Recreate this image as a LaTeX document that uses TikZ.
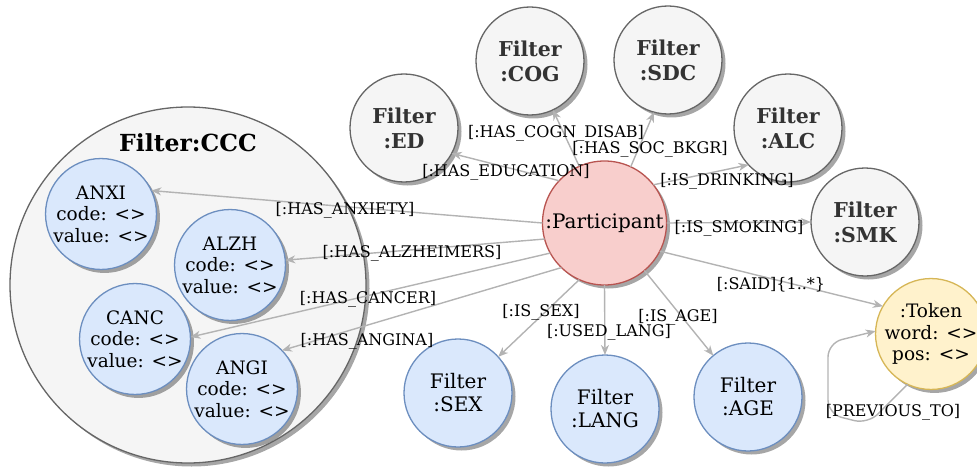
\documentclass[tikz,border=0pt]{standalone}
\usepackage{fontspec}
\setmainfont{DejaVu Serif}
\usetikzlibrary{shadows,arrows.meta}

\definecolor{grayfill}{HTML}{F5F5F5}
\definecolor{graydraw}{HTML}{666666}
\definecolor{graytext}{HTML}{333333}
\definecolor{bluefill}{HTML}{DAE8FC}
\definecolor{bluedraw}{HTML}{6C8EBF}
\definecolor{redfill}{HTML}{F8CECC}
\definecolor{reddraw}{HTML}{B85450}
\definecolor{yellowfill}{HTML}{FFF2CC}
\definecolor{yellowdraw}{HTML}{D6B656}
\definecolor{edgecol}{HTML}{B3B3B3}

\begin{document}
\begin{tikzpicture}[x=1pt,y=-1pt,
  every node/.style={inner sep=0pt,outer sep=0pt},
  roundnode/.style={circle,minimum size=108pt,line width=1.3pt,align=center,
    font=\fontsize{20}{23}\selectfont,
    drop shadow={shadow xshift=3.5pt,shadow yshift=-3.5pt,fill=black,opacity=0.35}},
  graynode/.style={roundnode,fill=grayfill,draw=graydraw,text=graytext,
    font=\fontsize{20.5}{25}\selectfont\bfseries},
  bluenode/.style={roundnode,fill=bluefill,draw=bluedraw},
  attrnode/.style={bluenode,font=\fontsize{18.5}{21.5}\selectfont},
  rednode/.style={roundnode,fill=redfill,draw=reddraw,minimum size=124pt},
  yellownode/.style={roundnode,fill=yellowfill,draw=yellowdraw,font=\fontsize{18.5}{21.5}\selectfont},
  conn/.style={draw=edgecol,line width=1.4pt,
    -{Stealth[length=10pt,width=8pt,inset=3pt]}},
  lbl/.style={font=\fontsize{16}{19}\selectfont,text=black}
]
\useasboundingbox (0,0) rectangle (977,468);

% container of the disease filters
\node[graynode,minimum size=356pt] (ccc) at (188,285) {};
\node[font=\fontsize{23.5}{27}\selectfont\bfseries] (ccctitle) at (188,143) {Filter:CCC};
\node[attrnode] (anxi) at (101,214) {ANXI\\code: <>\\value: <>};
\node[attrnode] (alzh) at (230,265) {ALZH\\code: <>\\value: <>};
\node[attrnode] (canc) at (135,339) {CANC\\code: <>\\value: <>};
\node[attrnode] (angi) at (242,389) {ANGI\\code: <>\\value: <>};

% central participant and the other filters
\node[rednode] (part) at (604.5,223) {:Participant};
\node[graynode] (ed)  at (404,128) {Filter\\:ED};
\node[graynode] (cog) at (530,61)  {Filter\\:COG};
\node[graynode] (sdc) at (668,60)  {Filter\\:SDC};
\node[graynode] (alc) at (788,128) {Filter\\:ALC};
\node[graynode] (smk) at (865,222) {Filter\\:SMK};
\node[bluenode] (sex)  at (458,393) {Filter\\:SEX};
\node[bluenode] (lang) at (605,409) {Filter\\:LANG};
\node[bluenode] (age)  at (748,397) {Filter\\:AGE};
\node[yellownode] (token) at (931,334) {:Token\\word: <>\\pos: <>};

% relationships
\draw[conn] (part.180) -- (anxi.25);
\draw[conn] (part.195) -- (alzh.5);
\draw[conn] (part.209) -- (canc.2);
\draw[conn] (part.226) -- (angi.44);
\draw[conn] (part.137) -- (ed.-28);
\draw[conn] (part.114) -- (cog);
\draw[conn] (part.65)  -- (sdc.255);
\draw[conn] (part.38)  -- (alc.223);
\draw[conn] (part.0)   -- (smk.180);
\draw[conn] (part.-27) -- (token.150);
\draw[conn] (part.-114) -- (sex.42);
\draw[conn] (part.-90) -- (lang.90);
\draw[conn] (part.-50) -- (age.130);

% token self loop
\coordinate (loopa) at (868,424);
\coordinate (loopb) at (828,414);
\coordinate (loopc) at (828,343);
\draw[conn,rounded corners=14pt] (token.245) -- (loopa) -- (loopb) -- (loopc) -- (token.177);

% relationship labels
\node[lbl] (l1)  at (345,210) {[:HAS\_ANXIETY]};
\node[lbl] (l2)  at (412,253) {[:HAS\_ALZHEIMERS]};
\node[lbl] (l3)  at (368,299) {[:HAS\_CANCER]};
\node[lbl] (l4)  at (367,341) {[:HAS\_ANGINA]};
\node[lbl] (l5)  at (506,172) {[:HAS\_EDUCATION]};
\node[lbl] (l6)  at (556,133) {[:HAS\_COGN\_DISAB]};
\node[lbl] (l7)  at (650,149) {[:HAS\_SOC\_BKGR]};
\node[lbl] (l8)  at (727,181) {[:IS\_DRINKING]};
\node[lbl] (l9)  at (739,228) {[:IS\_SMOKING]};
\node[lbl] (l10) at (771,285) {[:SAID]\{1..*\}};
\node[lbl] (l11) at (541,312) {[:IS\_SEX]};
\node[lbl] (l12) at (609,332) {[:USED\_LANG]};
\node[lbl] (l13) at (678,317) {[:IS\_AGE]};
\node[lbl] (l14) at (893,412) {[PREVIOUS\_TO]};
\end{tikzpicture}
\end{document}
